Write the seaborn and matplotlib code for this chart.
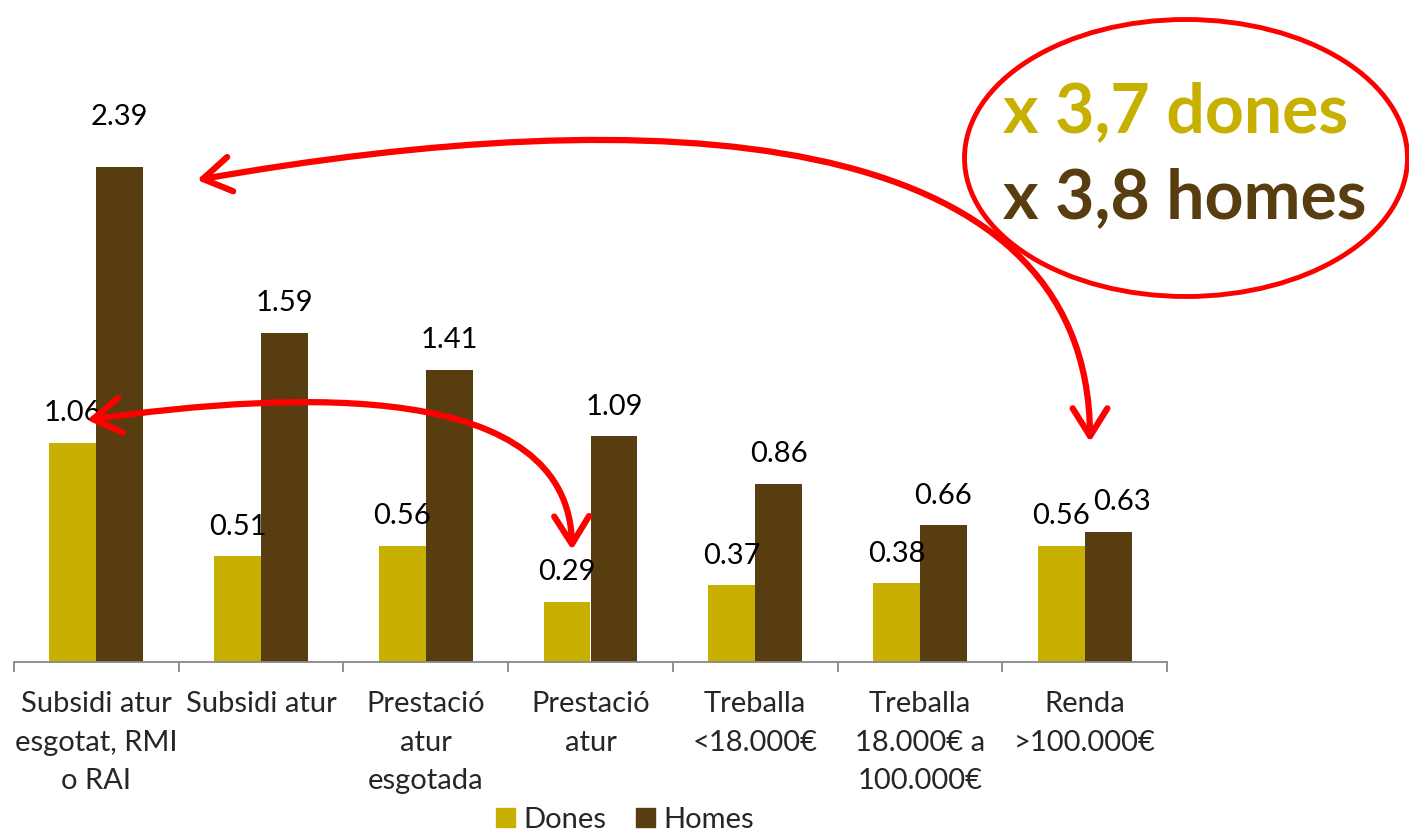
import matplotlib
matplotlib.use("Agg")
import matplotlib.pyplot as plt
import seaborn as sns
import pandas as pd
import numpy as np
from matplotlib.patches import Ellipse, FancyArrowPatch, Patch
from matplotlib.path import Path

categories = ["Subsidi atur\nesgotat, RMI\no RAI", "Subsidi atur", "Prestació\natur\nesgotada",
              "Prestació\natur", "Treballa\n<18.000€", "Treballa\n18.000€ a\n100.000€", "Renda\n>100.000€"]
dones = [1.06, 0.51, 0.56, 0.29, 0.37, 0.38, 0.56]
homes = [2.39, 1.59, 1.41, 1.09, 0.86, 0.66, 0.63]
series = ["Dones", "Homes"]
colors = ["#C8B000", "#573D0F"]
note_lines = ["x 3,7 dones", "x 3,8 homes"]

sns.set_theme(style="white")
plt.rcParams['font.family'] = ['Lato', 'DejaVu Sans']

df = pd.DataFrame({"cat": categories * 2,
                   "serie": [series[0]] * len(dones) + [series[1]] * len(homes),
                   "val": dones + homes})

W, H = 1409, 835
fig = plt.figure(figsize=(W / 100, H / 100), dpi=100)
ax = fig.add_axes([14 / W, 1 - 662 / H, (1167 - 14) / W, 621 / H])
sns.barplot(data=df, x="cat", y="val", hue="serie", palette=colors, width=0.57, ax=ax,
            legend=False, order=categories, hue_order=series, saturation=1, linewidth=0)
ax.set_ylim(0, 3.0)
ax.set_xlim(-0.5, 6.5)
ax.set_xlabel("")
ax.set_ylabel("")
ax.set_yticks([])
for s in ["left", "right", "top"]:
    ax.spines[s].set_visible(False)
ax.spines["bottom"].set_color("#888888")
ax.spines["bottom"].set_linewidth(1.3)

FS = 21
ax.set_xticks(range(len(categories)))
ax.set_xticklabels(categories, fontsize=FS)
for lab in ax.get_xticklabels():
    lab.set_linespacing(1.6)
ax.set_xticks(np.arange(-0.5, len(categories), 1), minor=True)
ax.tick_params(axis="x", which="major", length=0, pad=21)
ax.tick_params(axis="x", which="minor", bottom=True, length=7.5, width=1.3, color="#888888", direction="out")

n = len(categories)
for si, (cont, vals) in enumerate(zip(ax.containers, [dones, homes])):
    for i, (bar, v) in enumerate(zip(cont, vals)):
        dy = 27 if v == max(homes) else 12
        dx = 10 if (si == 1 and i == n - 1) else 0
        ax.annotate(f"{v:.2f}", (bar.get_x() + bar.get_width() / 2, bar.get_height()),
                    xytext=(dx, dy), textcoords="offset points", ha="center", va="bottom",
                    fontsize=FS, color="black")

handles = [Patch(color=c) for c in colors]
fig.legend(handles, series, loc="center", bbox_to_anchor=(625 / W, 1 - 820 / H), ncol=2,
           frameon=False, fontsize=FS, handlelength=0.65, handleheight=0.65,
           handletextpad=0.3, columnspacing=1.0)

def px(x, y):
    return (x / W, 1 - y / H)

ell = Ellipse(px(1186, 158), 443 / W, 277 / H, transform=fig.transFigure,
              fill=False, ec="red", lw=3.5)
fig.add_artist(ell)
fig.text(*px(1003, 113), note_lines[0], color=colors[0], fontsize=49, fontweight="bold",
         va="center", ha="left")
fig.text(*px(1003, 199), note_lines[1], color=colors[1], fontsize=49, fontweight="bold",
         va="center", ha="left")

def curve(p0, p1, p2, p3):
    verts = [px(*p0), px(*p1), px(*p2), px(*p3)]
    codes = [Path.MOVETO, Path.CURVE4, Path.CURVE4, Path.CURVE4]
    arr = FancyArrowPatch(path=Path(verts, codes), arrowstyle="<->,head_length=0.8,head_width=0.5",
                          mutation_scale=25, color="red", lw=4.5, transform=fig.transFigure,
                          capstyle="round", joinstyle="round")
    fig.add_artist(arr)

curve((197, 180), (650, 100), (1090, 120), (1090, 442))
curve((87, 420), (300, 390), (570, 380), (572, 550))

fig.savefig("out.png", dpi=100)
